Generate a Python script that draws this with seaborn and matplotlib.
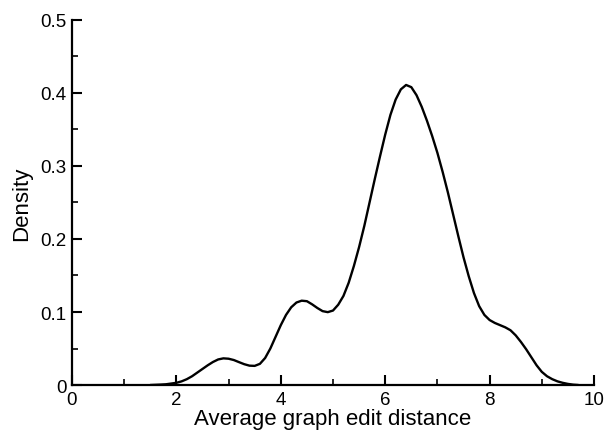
import matplotlib
matplotlib.use("Agg")
import matplotlib.pyplot as plt
from matplotlib.ticker import MultipleLocator
import seaborn as sns
import pandas as pd

# Curve values (x = average graph edit distance, y = density)
edit_distance = [1.5, 1.6, 1.7, 1.8, 1.9, 2.0, 2.1, 2.2, 2.3, 2.4,
                 2.5, 2.6, 2.7, 2.8, 2.9, 3.0, 3.1, 3.2, 3.3, 3.4,
                 3.5, 3.6, 3.7, 3.8, 3.9, 4.0, 4.1, 4.2, 4.3, 4.4,
                 4.5, 4.6, 4.7, 4.8, 4.9, 5.0, 5.1, 5.2, 5.3, 5.4,
                 5.5, 5.6, 5.7, 5.8, 5.9, 6.0, 6.1, 6.2, 6.3, 6.4,
                 6.5, 6.6, 6.7, 6.8, 6.9, 7.0, 7.1, 7.2, 7.3, 7.4,
                 7.5, 7.6, 7.7, 7.8, 7.9, 8.0, 8.1, 8.2, 8.3, 8.4,
                 8.5, 8.6, 8.7, 8.8, 8.9, 9.0, 9.1, 9.2, 9.3, 9.4,
                 9.5, 9.6, 9.7]
density = [0.0000, 0.0003, 0.0006, 0.0010, 0.0020, 0.0030, 0.0050, 0.0080, 0.0120, 0.0170,
           0.0220, 0.0270, 0.0315, 0.0350, 0.0365, 0.0360, 0.0342, 0.0313, 0.0285, 0.0265,
           0.0262, 0.0290, 0.0370, 0.0500, 0.0660, 0.0820, 0.0960, 0.1065, 0.1130, 0.1155,
           0.1148, 0.1105, 0.1055, 0.1012, 0.0998, 0.1020, 0.1100, 0.1220, 0.1400, 0.1630,
           0.1890, 0.2180, 0.2500, 0.2820, 0.3130, 0.3430, 0.3700, 0.3910, 0.4050, 0.4110,
           0.4080, 0.3970, 0.3810, 0.3620, 0.3410, 0.3180, 0.2920, 0.2640, 0.2340, 0.2040,
           0.1750, 0.1490, 0.1260, 0.1080, 0.0960, 0.0890, 0.0850, 0.0820, 0.0790, 0.0750,
           0.0680, 0.0590, 0.0490, 0.0380, 0.0270, 0.0180, 0.0120, 0.0080, 0.0050, 0.0030,
           0.0015, 0.0005, 0.0000]

x_ticks = [0, 2, 4, 6, 8, 10]
y_ticks = [0, 0.1, 0.2, 0.3, 0.4, 0.5]
y_tick_labels = ["0", "0.1", "0.2", "0.3", "0.4", "0.5"]

sns.set_style("white")
plt.rcParams["font.family"] = ["Liberation Sans", "DejaVu Sans"]
plt.rcParams["text.color"] = "black"
plt.rcParams["axes.labelcolor"] = "black"
plt.rcParams["xtick.color"] = "black"
plt.rcParams["ytick.color"] = "black"

df = pd.DataFrame({"x": edit_distance, "y": density})

fig = plt.figure(figsize=(6.07, 4.31), dpi=100)
ax = fig.add_axes([0.1186, 0.1044, 0.86, 0.8469])

sns.lineplot(data=df, x="x", y="y", ax=ax, color="black", linewidth=1.7)

ax.set_xlim(0, 10)
ax.set_ylim(0, 0.5)
ax.set_xticks(x_ticks)
ax.set_yticks(y_ticks)
ax.set_yticklabels(y_tick_labels)
ax.xaxis.set_minor_locator(MultipleLocator(1))
ax.yaxis.set_minor_locator(MultipleLocator(0.05))

for side in ["top", "right"]:
    ax.spines[side].set_visible(False)
for side in ["left", "bottom"]:
    ax.spines[side].set_linewidth(1.6)
    ax.spines[side].set_color("black")

ax.tick_params(which="major", direction="in", length=7, width=1.5, color="black",
               labelcolor="black", labelsize=13.5, pad=4, bottom=True, left=True)
ax.tick_params(which="minor", direction="in", length=4, width=1.2, color="black",
               bottom=True, left=True)

ax.set_xlabel("Average graph edit distance", fontsize=16, labelpad=0, color="black")
ax.set_ylabel("Density", fontsize=16, labelpad=6, color="black")

fig.savefig("out.png", dpi=100)
